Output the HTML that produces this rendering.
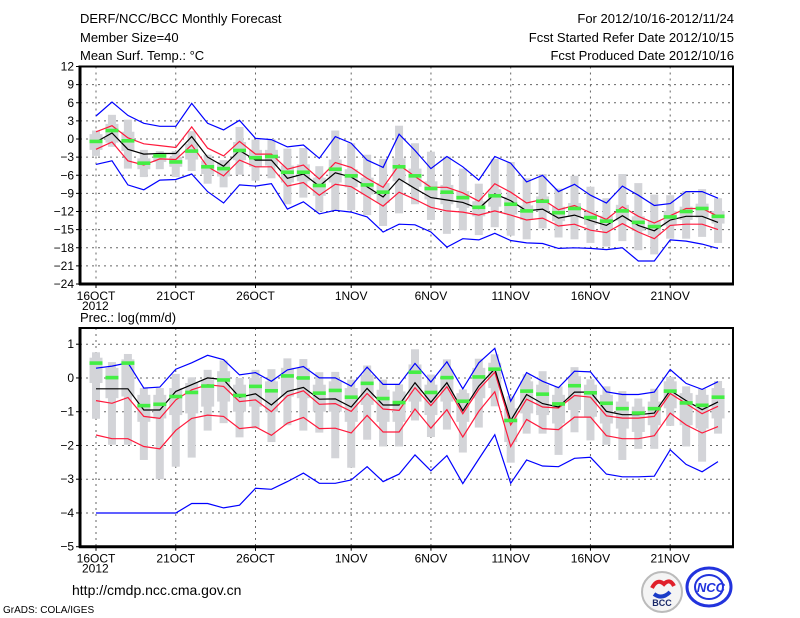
<!DOCTYPE html>
<html><head><meta charset="utf-8">
<style>
html,body{margin:0;padding:0;background:#fff;}
svg{display:block;font-family:"Liberation Sans",sans-serif;}
</style></head>
<body>
<svg id="chart" width="800" height="618" viewBox="0 0 800 618" xmlns="http://www.w3.org/2000/svg">
<g font-size="13" fill="#000">
<text x="80" y="23">DERF/NCC/BCC Monthly Forecast</text>
<text x="80" y="42">Member Size=40</text>
<text x="80" y="60">Mean Surf. Temp.: °C</text>
<text x="734" y="23" text-anchor="end">For 2012/10/16-2012/11/24</text>
<text x="734" y="42" text-anchor="end">Fcst Started Refer Date 2012/10/15</text>
<text x="734" y="60" text-anchor="end">Fcst Produced Date 2012/10/16</text>
<text x="80" y="322">Prec.: log(mm/d)</text>
</g>
<text x="72" y="595" font-size="14">http://cmdp.ncc.cma.gov.cn</text>
<text x="3" y="613" font-size="10">GrADS: COLA/IGES</text>
<g>
<circle cx="662" cy="592" r="20" fill="#f4f4f4" stroke="#bbb" stroke-width="2"/>
<path d="M652 588 q5 -10 12 -4 q6 -6 10 2" stroke="#e0202a" stroke-width="4" fill="none"/>
<path d="M654 594 q8 6 16 -2" stroke="#1a3cc8" stroke-width="4" fill="none"/>
<text x="662" y="606" font-size="9" font-weight="bold" text-anchor="middle" fill="#1a2a6a">BCC</text>
</g>
<g>
<ellipse cx="709" cy="587" rx="22" ry="19" fill="none" stroke="#2233dd" stroke-width="3"/>
<ellipse cx="709" cy="587" rx="14" ry="12" fill="none" stroke="#2233dd" stroke-width="2"/>
<text x="711" y="592" font-size="13" font-weight="bold" font-style="italic" text-anchor="middle" fill="#2233dd">NCC</text>
</g>
</svg>
<script>
const days = 40;
const xLabels = ["16OCT","21OCT","26OCT","1NOV","6NOV","11NOV","16NOV","21NOV"];
const xLabelDays = [0,5,10,16,21,26,31,36];
const gridDays = [0,5,10,16,21,26,31,36];
// Temperature panel data
const tTicks = [12,9,6,3,0,-3,-6,-9,-12,-15,-18,-21,-24];
const tBlueUpper = [3.8,6.1,3.9,2.6,2.1,2.1,5.9,2.6,1.5,3.1,0.1,-0.1,-1.3,-1.0,-3.2,0.4,-0.7,-3.5,-4.7,0.8,-1.9,-4.9,-2.9,-4.6,-6.8,-2.9,-4.0,-7.1,-6.0,-8.7,-7.5,-9.3,-10.6,-7.8,-9.3,-11.0,-10.7,-8.7,-8.7,-9.8];
const tRedUpper = [1.2,2.2,0.2,-0.8,-1.1,-1.4,2.0,-1.5,-2.8,-0.4,-2.5,-2.5,-5.0,-4.3,-6.6,-3.9,-4.7,-6.5,-8.0,-4.3,-6.2,-8.0,-8.0,-8.9,-10.3,-7.4,-8.8,-10.6,-10.0,-11.7,-11.0,-12.2,-13.3,-11.2,-12.8,-13.9,-12.7,-11.5,-11.5,-12.8];
const tMean = [-0.5,1.0,-1.7,-2.5,-2.4,-2.4,0.4,-3.0,-4.5,-1.9,-3.5,-3.5,-6.5,-5.8,-7.8,-5.6,-6.3,-7.9,-9.6,-6.6,-8.2,-9.7,-10.1,-10.5,-11.5,-9.1,-10.2,-11.9,-11.6,-13.1,-12.6,-13.5,-14.3,-12.7,-14.3,-15.2,-13.4,-12.8,-12.8,-13.8];
const tRedLower = [-1.7,-0.5,-3.6,-4.3,-3.3,-3.4,-1.0,-4.6,-6.1,-3.5,-4.6,-4.6,-7.8,-7.2,-9.3,-7.5,-7.9,-9.5,-11.1,-8.8,-10.0,-11.3,-11.9,-12.1,-12.6,-11.9,-12.6,-13.4,-13.1,-14.4,-14.1,-15.1,-15.5,-14.0,-15.4,-16.5,-14.3,-14.1,-14.1,-15.0];
const tBlueLower = [-4.2,-3.6,-7.6,-8.4,-6.8,-6.7,-5.8,-8.7,-10.6,-7.6,-7.8,-7.4,-11.6,-10.4,-12.4,-11.8,-12.1,-12.9,-15.4,-14.1,-14.2,-15.4,-17.9,-16.5,-16.7,-15.6,-16.8,-17.2,-17.3,-18.1,-18.0,-18.1,-18.3,-18.0,-20.2,-20.2,-16.7,-16.9,-17.4,-18.1];
const tGreen = [-0.4,1.4,-0.3,-4.0,-2.8,-3.8,-2.0,-4.6,-4.9,-1.9,-3.1,-2.9,-5.5,-5.5,-7.7,-5.0,-6.1,-7.6,-8.8,-4.6,-6.1,-8.2,-8.8,-9.7,-11.3,-9.4,-10.8,-11.9,-10.3,-12.2,-11.5,-13.0,-13.6,-11.9,-13.8,-14.5,-12.9,-12.0,-11.5,-12.8];
const tWhiskTop = [1.4,4.0,3.2,-1.8,-2.0,-2.0,1.3,-2.6,-3.5,2.0,-0.1,0,-1.6,-1.5,-4.5,1.4,-0.7,-2.6,-3.3,2.2,-0.7,-2.1,-2.9,-4.9,-7.4,-3.3,-3.8,-6.5,-5.8,-8.2,-6.1,-7.9,-9.8,-5.8,-7.3,-9.2,-9.3,-8.6,-8.3,-9.8];
const tWhiskBot = [-2.8,-1.3,-4.9,-6.3,-5.0,-6.3,-5.3,-7.4,-8.0,-5.9,-6.9,-6.5,-10.8,-9.7,-12.0,-11.9,-11.8,-12.6,-14.4,-12.3,-10.8,-13.4,-15.7,-15.1,-15.9,-14.6,-16.0,-16.6,-14.8,-16.3,-16.6,-17.2,-17.8,-16.9,-18.4,-19.1,-16.5,-16.5,-16.2,-17.2];
const tBoxTop = [0.8,2.5,1.2,-3.2,-2.3,-3.0,-0.8,-3.6,-3.8,-0.5,-1.8,-1.8,-4.4,-4.2,-6.4,-3.4,-5.0,-6.4,-7.3,-3.2,-4.9,-7.0,-7.6,-8.6,-10.3,-8.3,-9.6,-11.0,-9.5,-11.2,-10.6,-12.1,-12.7,-10.9,-12.8,-13.5,-11.9,-11.2,-10.7,-11.9];
const tBoxBot = [-1.8,-0.6,-2.0,-5.0,-3.8,-4.6,-3.4,-5.8,-6.2,-3.5,-4.6,-4.4,-7.2,-7.0,-9.4,-7.2,-8.0,-9.2,-10.6,-7.0,-7.9,-10.0,-10.8,-11.4,-12.8,-11.2,-12.5,-13.4,-12.0,-13.6,-12.9,-14.2,-15.0,-13.5,-15.2,-15.9,-14.3,-13.4,-13.0,-14.0];
// Precipitation panel data
const pTicks = [1,0,-1,-2,-3,-4,-5];
const pBlueUpper = [0.29,0.35,0.45,-0.3,-0.27,0.26,0.45,0.67,0.54,0.09,0.16,-0.1,0.24,0.34,0.0,0.0,-0.24,0.32,-0.19,-0.19,0.43,-0.12,0.48,-0.32,0.45,0.88,-0.69,0.16,-0.1,-0.29,0.2,0.18,-0.41,-0.49,-0.49,-0.42,0.25,-0.16,-0.34,-0.11];
const pRedUpper = [-0.67,-0.75,-0.58,-1.14,-1.2,-0.65,-0.35,-0.2,-0.25,-0.7,-0.65,-1.0,-0.53,-0.38,-0.78,-0.76,-0.99,-0.46,-0.92,-0.96,-0.29,-0.82,-0.26,-1.06,-0.34,0.17,-1.39,-0.63,-0.86,-0.89,-0.52,-0.57,-1.12,-1.19,-1.19,-1.14,-0.46,-0.76,-1.06,-0.84];
const pMean = [-0.32,-0.32,-0.32,-0.95,-0.95,-0.4,-0.2,0.0,-0.05,-0.57,-0.47,-0.8,-0.4,-0.28,-0.63,-0.62,-0.86,-0.31,-0.8,-0.8,-0.14,-0.72,-0.14,-0.97,-0.24,0.27,-1.26,-0.49,-0.76,-0.86,-0.42,-0.42,-0.99,-1.09,-1.09,-1.04,-0.37,-0.67,-0.94,-0.71];
const pRedLower = [-1.69,-1.8,-1.8,-2.03,-2.1,-1.55,-1.2,-1.1,-1.14,-1.5,-1.45,-1.7,-1.34,-1.17,-1.5,-1.49,-1.63,-1.11,-1.6,-1.6,-0.92,-1.49,-0.94,-1.75,-0.99,-0.41,-2.03,-1.23,-1.5,-1.53,-1.16,-1.16,-1.71,-1.8,-1.8,-1.71,-1.04,-1.39,-1.63,-1.44];
const pBlueLower = [-4,-4,-4,-4,-4,-4,-3.72,-3.72,-3.85,-3.77,-3.27,-3.3,-3.07,-2.82,-3.12,-3.12,-3.02,-2.63,-3.07,-2.85,-2.28,-2.75,-2.3,-3.13,-2.4,-1.68,-3.12,-2.43,-2.61,-2.63,-2.38,-2.35,-2.85,-2.93,-2.93,-2.91,-2.13,-2.56,-2.78,-2.48];
const pGreen = [0.44,0.01,0.44,-0.82,-0.78,-0.55,-0.43,-0.24,-0.06,-0.52,-0.25,-0.38,0.06,0.0,-0.45,-0.37,-0.57,-0.16,-0.61,-0.73,0.17,-0.43,0.01,-0.69,0.03,0.26,-1.26,-0.39,-0.48,-0.77,-0.23,-0.44,-0.75,-0.91,-1.04,-0.91,-0.39,-0.74,-0.81,-0.57];
const pWhiskTop = [0.76,0.47,0.71,-0.3,-0.3,0.12,0.02,0.24,0.52,0.0,0.24,0.26,0.58,0.56,0.17,0.18,-0.05,0.37,-0.05,-0.19,0.85,0.1,0.55,-0.34,0.57,0.7,-0.54,0.11,0.2,-0.25,0.32,-0.04,-0.25,-0.39,-0.61,-0.32,0.03,-0.25,-0.32,-0.09];
const pWhiskBot = [-1.21,-1.98,-1.98,-2.43,-3.0,-2.63,-2.36,-1.56,-1.34,-1.76,-1.5,-1.9,-1.4,-1.56,-1.62,-2.38,-2.66,-1.83,-2.03,-2.03,-1.26,-1.75,-1.53,-2.21,-1.47,-0.84,-2.51,-1.65,-1.65,-2.28,-1.61,-1.85,-1.98,-2.43,-2.1,-2.1,-1.42,-2.03,-2.48,-1.65];
const pBoxTop = [0.6,0.3,0.55,-0.5,-0.5,-0.3,-0.15,-0.05,0.2,-0.2,0.0,-0.1,0.3,0.3,-0.2,-0.1,-0.3,0.1,-0.35,-0.4,0.4,-0.2,0.25,-0.45,0.3,0.45,-0.9,-0.1,-0.2,-0.5,0.05,-0.2,-0.5,-0.7,-0.85,-0.7,-0.1,-0.45,-0.5,-0.3];
const pBoxBot = [-0.15,-0.6,-0.55,-1.3,-1.2,-1.1,-1.05,-0.85,-0.7,-1.0,-0.85,-1.0,-0.55,-0.6,-1.0,-1.0,-1.3,-0.8,-1.3,-1.3,-0.7,-1.1,-0.7,-1.3,-0.6,-0.3,-1.9,-1.05,-1.1,-1.35,-0.95,-1.15,-1.35,-1.5,-1.6,-1.4,-0.9,-1.4,-1.5,-1.2];

const NS = "http://www.w3.org/2000/svg";
const svg = document.getElementById("chart");
function mk(tag, attrs, parent){
  const e = document.createElementNS(NS, tag);
  for (const k in attrs) e.setAttribute(k, attrs[k]);
  (parent||svg).appendChild(e);
  return e;
}
const xL = 80, xR = 733;
function xs(d){ return 96 + d*15.95; }

function panel(name, top, bottom, vMax, vMin, ticks, S){
  const g = mk("g", {});
  
  
  const ys = v => top + (vMax - v) * (bottom - top) / (vMax - vMin);
  ticks.forEach(t => {
    const y = ys(t);
    if (y > top + 1 && y < bottom - 1) {
      const l = mk("line", {x1:xL, x2:xR, y1:y, y2:y, stroke:"#666", "stroke-dasharray":"2,4", "stroke-width":1}, g);
      
      
    }
    const lb = mk("text", {x:xL-6, y:ys(t)+4, "font-size":12, "text-anchor":"end"}, g);
    
    
    lb.textContent = (t < 0 ? "\u2212" + (-t) : String(t));
    const tk = mk("line", {x1:xL-4, x2:xL, y1:ys(t), y2:ys(t), stroke:"#000"}, g);
    
    
  });
  gridDays.forEach(d => {
    const x = xs(d);
    const l = mk("line", {x1:x, x2:x, y1:top, y2:bottom, stroke:"#666", "stroke-dasharray":"2,4", "stroke-width":1}, g);
    
    
  });
  xLabels.forEach((lab, i) => {
    const x = xs(xLabelDays[i]);
    const tk = mk("line", {x1:x, x2:x, y1:bottom, y2:bottom+4, stroke:"#000"}, g);
    
    
    const t = mk("text", {x:x, y:bottom+16, "font-size":12, "text-anchor":"middle"}, g);
    
    
    t.textContent = lab;
  });
  const yr = mk("text", {x:82, y:bottom+26, "font-size":12}, g);
  
  
  yr.textContent = "2012";
  for (let d = 0; d < days; d++) {
    const x = xs(d);
    const w = mk("rect", {x:x-4, y:ys(S.wt[d]), width:8, height:ys(S.wb[d])-ys(S.wt[d]), fill:"#d3d4d8"}, g);
    
    
    const b = mk("rect", {x:x-6.5, y:ys(S.bt[d]), width:13, height:ys(S.bb[d])-ys(S.bt[d]), fill:"#d3d4d8"}, g);
    
    
  }
  const line = (arr, color, nm) => {
    const p = mk("polyline", {points: arr.map((v,d)=>xs(d).toFixed(1)+","+ys(v).toFixed(1)).join(" "), fill:"none", stroke:color, "stroke-width":1.2}, g);
    
    
  };
  line(S.bl, "#0000ff", "blue-lower-line");
  line(S.bu, "#0000ff", "blue-upper-line");
  line(S.rl, "#ff1a3c", "red-lower-line");
  line(S.ru, "#ff1a3c", "red-upper-line");
  line(S.m, "#000000", "ensemble-mean-line");
  for (let d = 0; d < days; d++) {
    const r = mk("rect", {x:xs(d)-6.5, y:ys(S.g[d])-1.8, width:13, height:3.6, fill:"#44ee44"}, g);
    
    
  }
  const f = mk("rect", {x:xL, y:top, width:xR-xL, height:bottom-top, fill:"none", stroke:"#000", "stroke-width":2}, g);
  
  
  const lf = mk("line", {x1:xL, x2:xL, y1:top-1, y2:bottom+1, stroke:"#000", "stroke-width":3}, g);
  
  
  const bf = mk("line", {x1:xL-1, x2:xR+1, y1:bottom, y2:bottom, stroke:"#000", "stroke-width":3}, g);
  
  
}
panel("temperature-panel", 66.5, 284, 12, -24, tTicks,
  {bu:tBlueUpper, ru:tRedUpper, m:tMean, rl:tRedLower, bl:tBlueLower, g:tGreen, wt:tWhiskTop, wb:tWhiskBot, bt:tBoxTop, bb:tBoxBot});
panel("precipitation-panel", 328, 546.7, 1.48, -5, pTicks,
  {bu:pBlueUpper, ru:pRedUpper, m:pMean, rl:pRedLower, bl:pBlueLower, g:pGreen, wt:pWhiskTop, wb:pWhiskBot, bt:pBoxTop, bb:pBoxBot});
</script>
</body></html>
